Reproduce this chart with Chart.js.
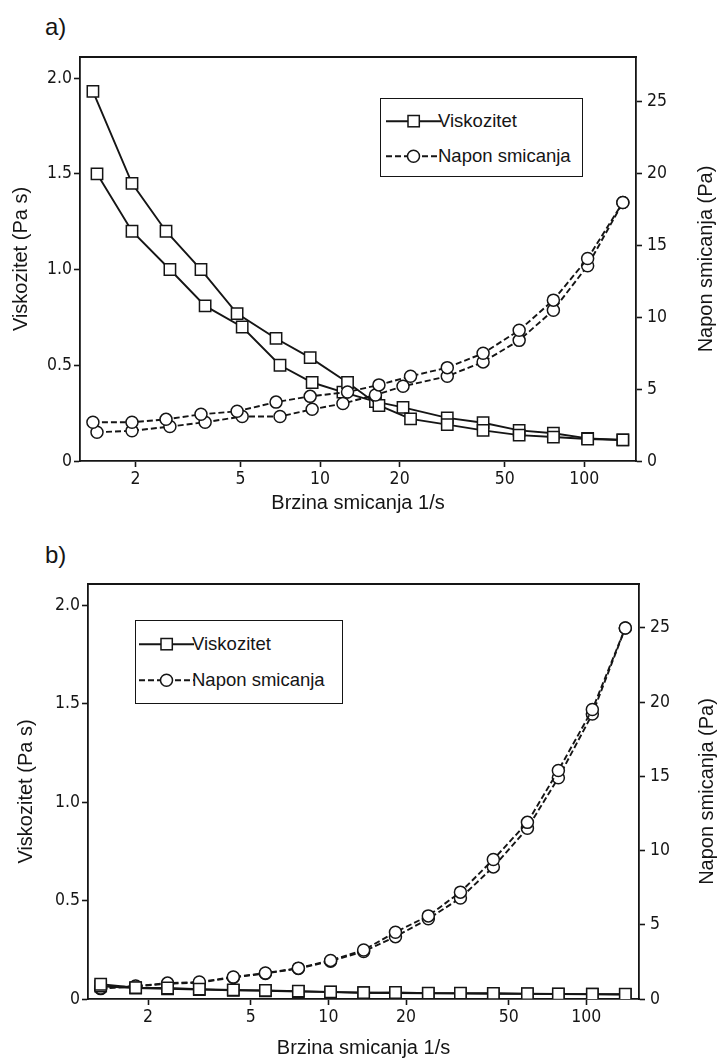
<!DOCTYPE html>
<html>
<head>
<meta charset="utf-8">
<script src="https://cdn.jsdelivr.net/npm/chart.js@4.4.1/dist/chart.umd.min.js"></script>
<style>
  body { margin: 0; background: #fff; width: 718px; height: 1060px; position: relative; overflow: hidden;
         font-family: "Liberation Sans", Arial, sans-serif; color: #151515; }
  canvas { position: absolute; left: 0; }
  #chartA { top: 0; }
  #chartB { top: 530px; }
  .panel { position: absolute; font-size: 24px; line-height: 24px; }
  .legend { position: absolute; border: 1.8px solid #151515; background: #fff; box-sizing: border-box; }
  .legend svg { position: absolute; }
  .legend span { position: absolute; font-size: 18.5px; line-height: 20px; white-space: nowrap; }
</style>
</head>
<body>
<div class="panel" style="left:45px;top:15px;">a)</div>
<div class="panel" style="left:45px;top:543px;">b)</div>
<canvas id="chartA" width="718" height="520"></canvas>
<canvas id="chartB" width="718" height="530"></canvas>
<script>
// x tick labels (both panels)
const xTicks = [2, 5, 10, 20, 50, 100];

// panel a) - two runs (up / down)
const rateA1 = [1.38, 1.94, 2.61, 3.54, 4.85, 6.81, 9.17, 12.7, 16.7, 22.0, 30.3, 41.4, 56.7, 76.4, 103, 140];
const rateA2 = [1.43, 1.94, 2.70, 3.67, 5.07, 7.05, 9.33, 12.2, 16.2, 20.6, 30.3, 41.4, 56.7, 76.4, 103, 140];
const viscA1 = [1.93, 1.45, 1.20, 1.00, 0.77, 0.64, 0.54, 0.41, 0.29, 0.22, 0.19, 0.16, 0.135, 0.125, 0.115, 0.11];
const viscA2 = [1.50, 1.20, 1.00, 0.81, 0.70, 0.50, 0.41, 0.36, 0.31, 0.28, 0.225, 0.20, 0.16, 0.145, 0.118, 0.11];
const stressA1 = [2.7, 2.7, 2.9, 3.25, 3.46, 4.1, 4.5, 4.8, 5.3, 5.9, 6.5, 7.5, 9.1, 11.2, 14.1, 18.0];
const stressA2 = [2.0, 2.1, 2.4, 2.7, 3.1, 3.1, 3.6, 4.0, 4.6, 5.2, 5.9, 6.9, 8.4, 10.5, 13.6, 18.0];

// panel b)
const rateB = [1.31, 1.79, 2.38, 3.16, 4.28, 5.70, 7.65, 10.2, 13.7, 18.2, 24.4, 32.5, 43.6, 59.1, 77.9, 105.5, 141.6];
const viscB1 = [0.075, 0.058, 0.056, 0.05, 0.046, 0.044, 0.04, 0.036, 0.032, 0.033, 0.03, 0.03, 0.029, 0.027, 0.026, 0.025, 0.024];
const viscB2 = [0.065, 0.056, 0.052, 0.048, 0.044, 0.042, 0.038, 0.035, 0.032, 0.03, 0.029, 0.028, 0.027, 0.026, 0.025, 0.024, 0.023];
const stressB1 = [0.74, 0.87, 1.07, 1.14, 1.48, 1.75, 2.08, 2.6, 3.3, 4.5, 5.6, 7.2, 9.4, 11.9, 15.4, 19.5, 25.0];
const stressB2 = [0.70, 0.85, 1.03, 1.10, 1.45, 1.72, 2.05, 2.55, 3.2, 4.2, 5.4, 6.8, 8.9, 11.5, 14.9, 19.2, 25.0];

const ink = '#151515';
const tickFont = { family: "'DejaVu Sans Condensed', 'DejaVu Sans', sans-serif", size: 17.5 };
const titleFont = { family: "'Liberation Sans', Arial, sans-serif", size: 20 };

function pts(xs, ys) {
    return xs.map((x, i) => ({ x: x, y: ys[i] }));
}

function viscSet(xs, ys) {
    return {
        data: pts(xs, ys), yAxisID: 'y',
        borderColor: ink, borderWidth: 1.9,
        pointStyle: 'rect', pointRadius: 8, pointHoverRadius: 8,
        pointBackgroundColor: '#fff', pointBorderColor: ink, pointBorderWidth: 1.5
    };
}

function stressSet(xs, ys) {
    return {
        data: pts(xs, ys), yAxisID: 'y2',
        borderColor: ink, borderWidth: 1.9, borderDash: [6, 3],
        pointStyle: 'circle', pointRadius: 6, pointHoverRadius: 6,
        pointBackgroundColor: '#fff', pointBorderColor: ink, pointBorderWidth: 1.5
    };
}

// top edge of the box + right axis title (reads bottom to top)
const framePlugin = {
    id: 'frame',
    afterDraw(chart) {
        const { ctx, chartArea: a } = chart;
        ctx.save();
        ctx.strokeStyle = ink;
        ctx.lineWidth = 1.8;
        ctx.beginPath();
        ctx.moveTo(a.left - 0.9, a.top);
        ctx.lineTo(a.right + 0.9, a.top);
        ctx.stroke();
        ctx.fillStyle = ink;
        ctx.font = titleFont.size + 'px ' + titleFont.family;
        ctx.textAlign = 'center';
        ctx.textBaseline = 'middle';
        ctx.translate(chart.options.plugins.frame.rightTitleX, (a.top + a.bottom) / 2);
        ctx.rotate(-Math.PI / 2);
        ctx.fillText('Napon smicanja (Pa)', 0, 0);
        ctx.restore();
    }
};

function makeChart(id, g, datasets) {
    return new Chart(document.getElementById(id), {
        type: 'line',
        data: { datasets: datasets },
        options: {
            responsive: false,
            animation: false,
            events: [],
            layout: { padding: { top: g.top, left: 0, right: 0, bottom: 0 } },
            plugins: {
                legend: { display: false },
                tooltip: { enabled: false },
                frame: { rightTitleX: g.rightTitleX }
            },
            scales: {
                x: {
                    type: 'logarithmic', position: 'bottom', min: g.xMin, max: g.xMax,
                    afterBuildTicks: s => { s.ticks = xTicks.map(v => ({ value: v })); },
                    afterFit: s => { s.height = g.xH; },
                    ticks: { callback: v => String(v), font: tickFont, color: ink, padding: 2, autoSkip: false, maxRotation: 0 },
                    grid: { drawOnChartArea: false, tickLength: 6, tickWidth: 1.6, tickColor: ink },
                    border: { color: ink, width: 1.8 },
                    title: { display: true, text: 'Brzina smicanja 1/s', font: titleFont, color: ink,
                             padding: { top: 0, bottom: g.xTitlePad } }
                },
                y: {
                    position: 'left', min: 0, max: g.yMax,
                    afterBuildTicks: s => { s.ticks = [0, 0.5, 1.0, 1.5, 2.0].map(v => ({ value: v })); },
                    afterFit: s => { s.width = g.yW; },
                    ticks: { callback: v => v === 0 ? '0' : v.toFixed(1), font: tickFont, color: ink, padding: 2 },
                    grid: { drawOnChartArea: false, tickLength: 6, tickWidth: 1.6, tickColor: ink },
                    border: { color: ink, width: 1.8 },
                    title: { display: true, text: 'Viskozitet (Pa s)', font: titleFont, color: ink,
                             padding: { top: g.yTitlePad, bottom: 0 } }
                },
                y2: {
                    position: 'right', min: 0, max: g.y2Max,
                    afterBuildTicks: s => { s.ticks = [0, 5, 10, 15, 20, 25].map(v => ({ value: v })); },
                    afterFit: s => { s.width = g.y2W; },
                    ticks: { callback: v => String(v), font: tickFont, color: ink, padding: 5 },
                    grid: { drawOnChartArea: false, tickLength: 6, tickWidth: 1.6, tickColor: ink },
                    border: { color: ink, width: 1.8 }
                }
            }
        },
        plugins: [framePlugin]
    });
}

makeChart('chartA', {
    top: 57, xH: 59, yW: 80, y2W: 82, xMin: 1.233, xMax: 157,
    yMax: 2.11, y2Max: 28.13, xTitlePad: 5, yTitlePad: 9, rightTitleX: 706
}, [
    stressSet(rateA1, stressA1), stressSet(rateA2, stressA2),
    viscSet(rateA1, viscA1), viscSet(rateA2, viscA2)
]);

makeChart('chartB', {
    top: 54, xH: 61, yW: 88, y2W: 79, xMin: 1.17, xMax: 160,
    yMax: 2.107, y2Max: 27.96, xTitlePad: 0, yTitlePad: 14, rightTitleX: 707
}, [
    viscSet(rateB, viscB1), viscSet(rateB, viscB2),
    stressSet(rateB, stressB1), stressSet(rateB, stressB2)
]);

// legends: line sample + marker, then label
function addLegend(left, top, w, h, rows) {
    const box = document.createElement('div');
    box.className = 'legend';
    box.style.cssText = `left:${left}px;top:${top}px;width:${w}px;height:${h}px;`;
    rows.forEach(r => {
        const marker = r.kind === 'rect'
            ? '<rect x="22" y="2.5" width="11.3" height="11.3" fill="#fff" stroke="#151515" stroke-width="1.5"/>'
            : '<circle cx="27.5" cy="8.2" r="6" fill="#fff" stroke="#151515" stroke-width="1.5"/>';
        const dash = r.kind === 'rect' ? '' : ' stroke-dasharray="6 3"';
        const svg = `<svg width="56" height="17" style="left:${r.sx}px;top:${r.y - 8}px">
            <line x1="0" y1="8.2" x2="55" y2="8.2" stroke="#151515" stroke-width="1.9"${dash}/>${marker}</svg>`;
        box.insertAdjacentHTML('beforeend', svg);
        const s = document.createElement('span');
        s.textContent = r.label;
        s.style.left = r.tx + 'px';
        s.style.top = (r.y - 10) + 'px';
        box.appendChild(s);
    });
    document.body.appendChild(box);
}

addLegend(380, 98, 203, 79, [
    { kind: 'rect', label: 'Viskozitet', y: 22, sx: 5, tx: 57 },
    { kind: 'circle', label: 'Napon smicanja', y: 57, sx: 5, tx: 57 }
]);
addLegend(135, 620, 208, 84, [
    { kind: 'rect', label: 'Viskozitet', y: 23, sx: 3, tx: 56 },
    { kind: 'circle', label: 'Napon smicanja', y: 59, sx: 3, tx: 56 }
]);
</script>
</body>
</html>
